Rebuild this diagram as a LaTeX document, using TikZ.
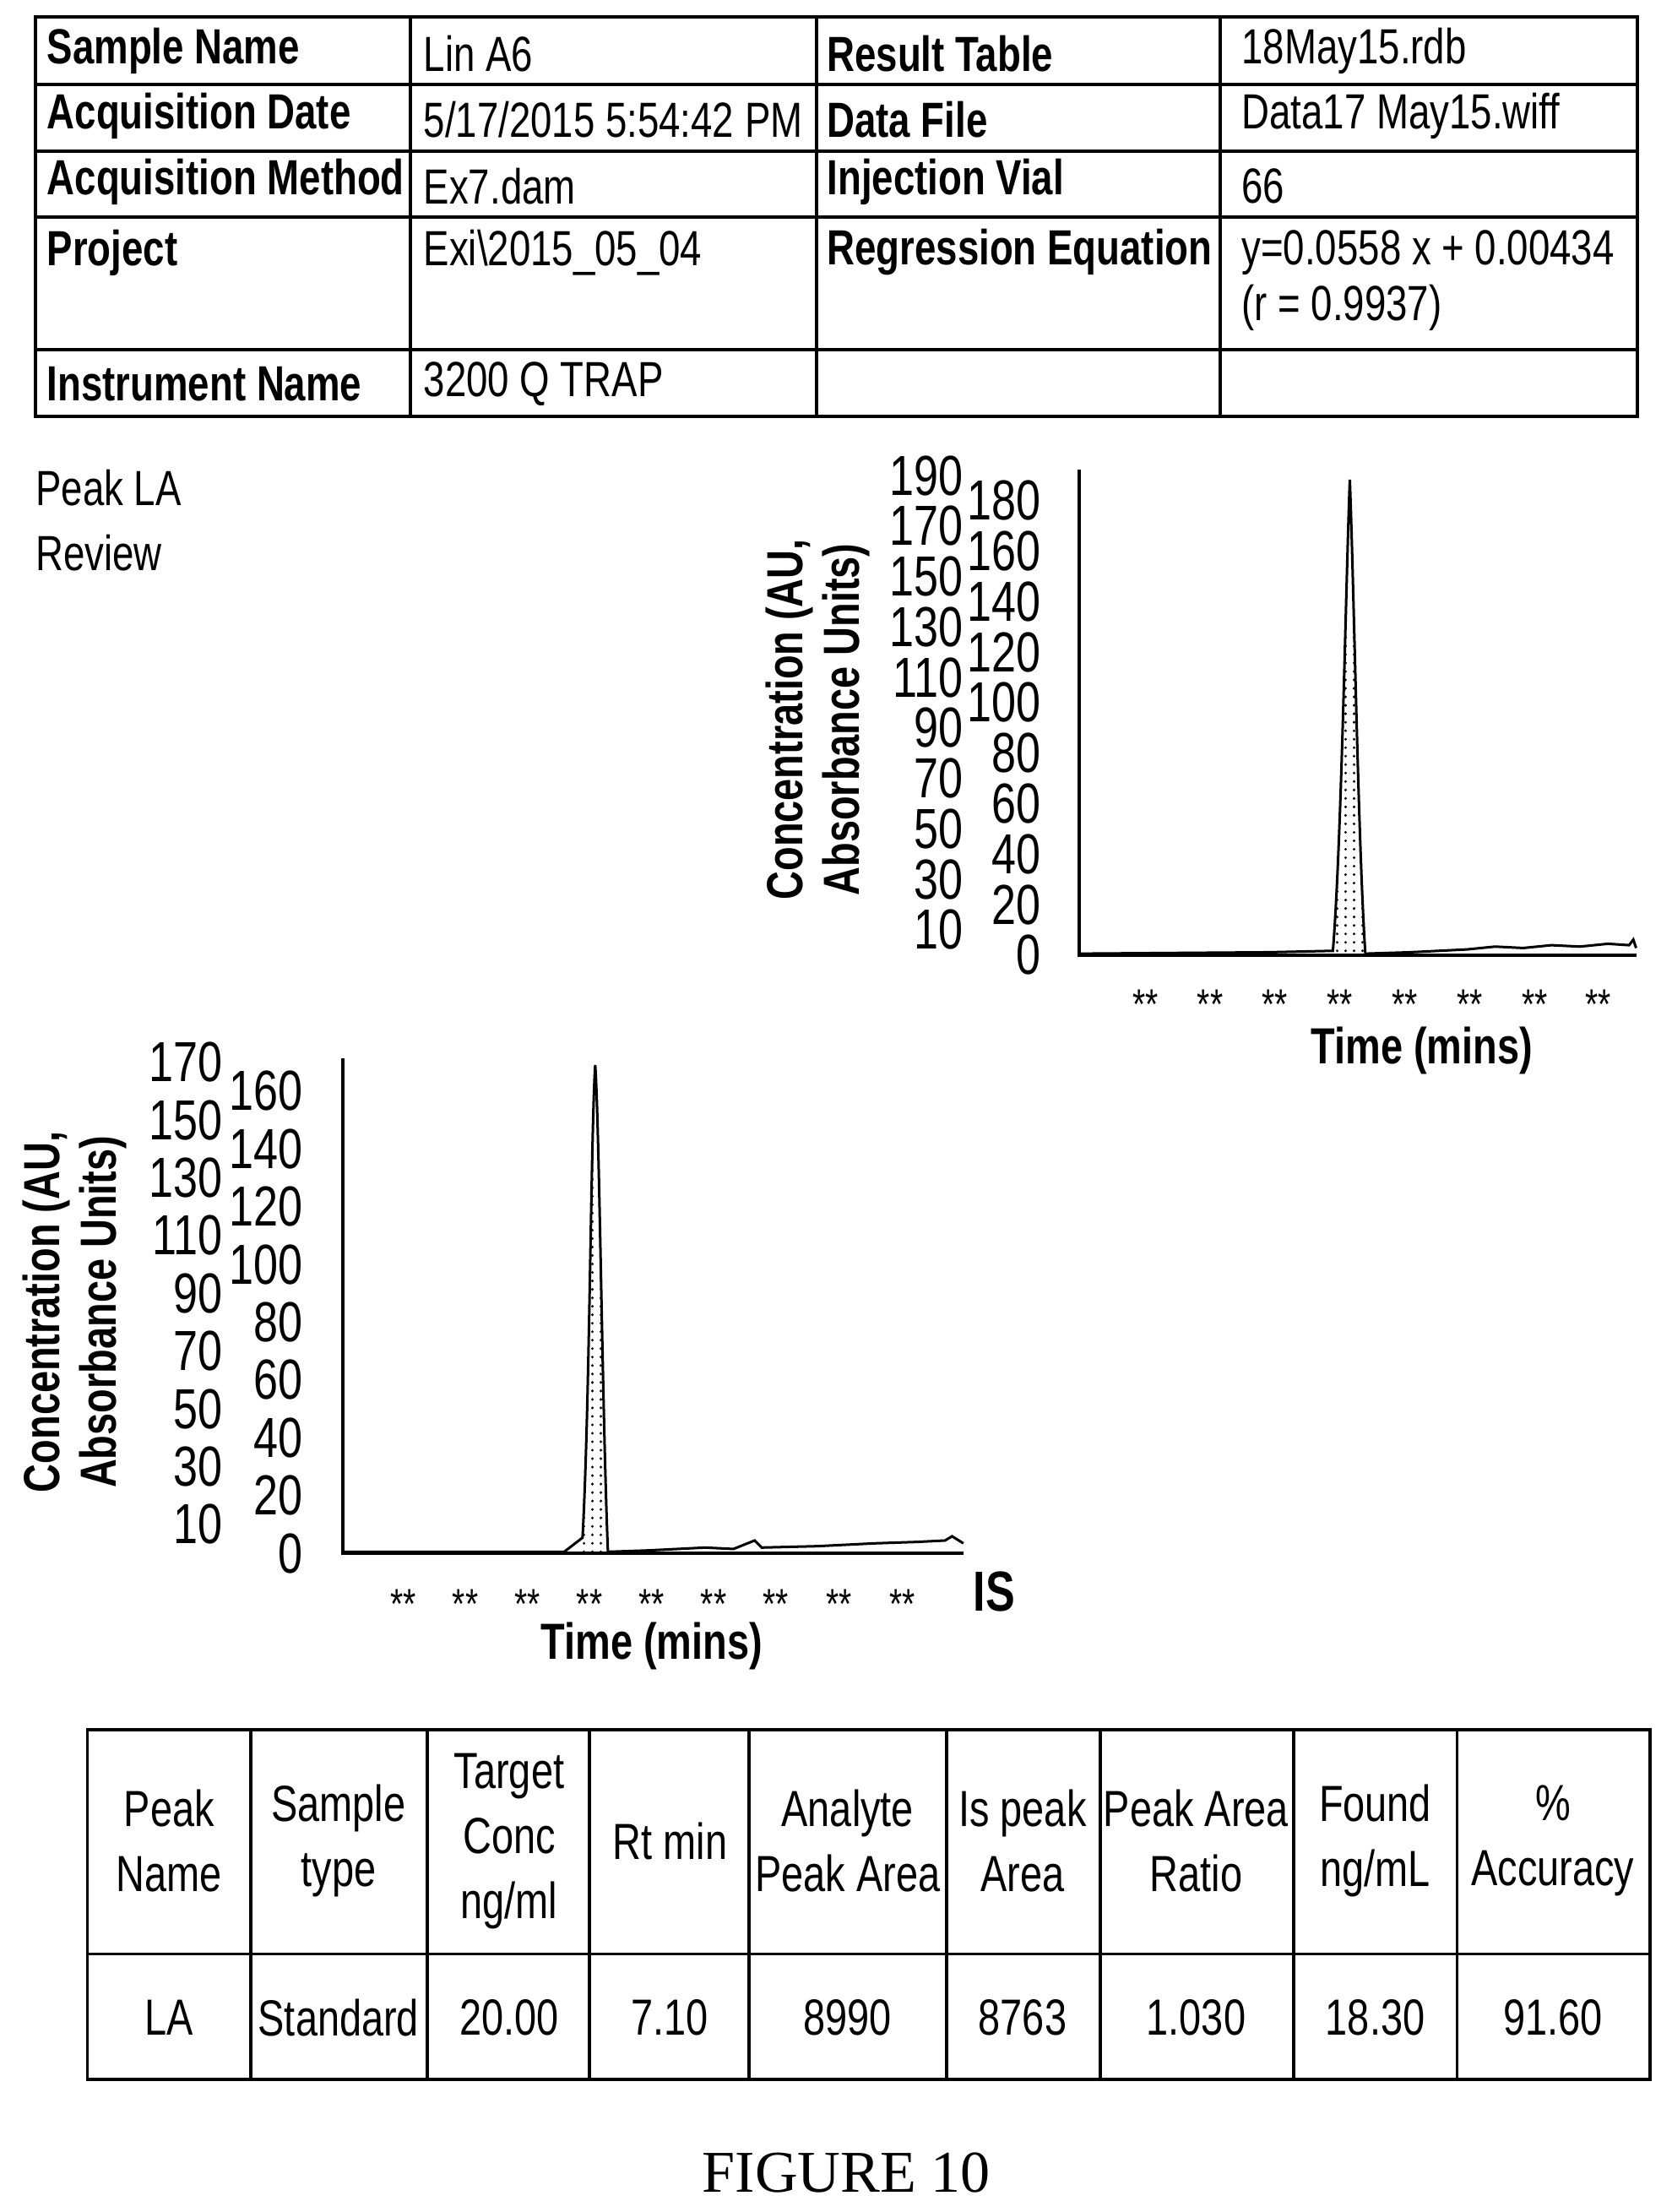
\documentclass[tikz,border=0pt]{standalone}
\usepackage{fontspec}
\setmainfont{Liberation Sans}[FakeStretch=0.78]
\newfontfamily\seriffont{Liberation Serif}
\usetikzlibrary{patterns}
\begin{document}
\begin{tikzpicture}[x=0.5pt,y=-0.5pt,
 tt/.style={anchor=west,font=\fontsize{17.5}{19}\selectfont,inner sep=0},
 tb/.style={tt,font=\fontsize{17.5}{19}\selectfont\bfseries},
 ax/.style={anchor=east,font=\fontsize{20}{21}\selectfont,inner sep=0},
 al/.style={font=\fontsize{18}{20}\selectfont\bfseries,inner sep=0,align=center},
 st/.style={font=\fontsize{15}{15}\selectfont,inner sep=0},
 bt/.style={font=\fontsize{18}{23}\selectfont,inner sep=0,align=center},
 line/.style={line width=1.1pt}]
\useasboundingbox (0,0) rectangle (1185,1568);
% top table
\draw[line] (25,12) rectangle (1161,295);
\foreach \y in {60,107,154,248} \draw[line] (25,\y)--(1161,\y);
\foreach \x in {291,579,865} \draw[line] (\x,12)--(\x,295);
\node[tb] (a1) at (33,36) {Sample Name};
\node[tt] (b1) at (300,38) {Lin A6};
\node[tb] (c1) at (586,38) {Result Table};
\node[tt] (d1) at (880,36) {18May15.rdb};
\node[tb] (a2) at (33,82) {Acquisition Date};
\node[tt] (b2) at (300,85) {5/17/2015 5:54:42 PM};
\node[tb] (c2) at (586,85) {Data File};
\node[tt] (d2) at (880,82) {Data17 May15.wiff};
\node[tb] (a3) at (33,129) {Acquisition Method};
\node[tt] (b3) at (300,132) {Ex7.dam};
\node[tb] (c3) at (586,129) {Injection Vial};
\node[tt] (d3) at (880,132) {66};
\node[tb] (a4) at (33,179) {Project};
\node[tt] (b4) at (300,179) {Exi\textbackslash 2015\_05\_04};
\node[tb] (c4) at (586,179) {Regression Equation};
\node[tt] (d4) at (880,179) {y=0.0558 x + 0.00434};
\node[tt] (d4b) at (880,218) {(r = 0.9937)};
\node[tb] (a5) at (33,272) {Instrument Name};
\node[tt] (b5) at (300,272) {3200 Q TRAP};
\node[tt] (pl) at (25,346) {Peak LA};
\node[tt] (rv) at (25,392) {Review};
% chart 1
\fill[white,pattern=dots] (945,676) .. controls (951,600) and (954,420) .. (957,340) .. controls (960,420) and (963,600) .. (968,676) -- cycle;
\draw[line width=0.9pt] (765,676) -- (900,675) -- (945,674) .. controls (951,600) and (954,420) .. (957,340) .. controls (960,420) and (963,600) .. (968,676) -- (1000,675) -- (1020,674)--(1040,673)--(1060,671)--(1080,672)--(1100,670)--(1120,671)--(1140,669)--(1155,670)--(1158,666)--(1160,672);
\draw[line] (765,333) -- (765,677) -- (1160,677);
\foreach \v in {10,30,...,190} \node[ax] at (683,{677-1.789*\v}) {\v};
\foreach \v in {0,20,...,180} \node[ax] at (738,{677-1.789*\v}) {\v};
\foreach \x in {812,858,904,950,996,1042,1088,1133} \node[st] at (\x,712) {**};
\node[al,rotate=90] (yl1) at (580,510) {Concentration (AU,\\Absorbance Units)};
\node[al] (xl1) at (1008,745) {Time (mins)};
% chart 2
\fill[white,pattern=dots] (413,1100) .. controls (418,1000) and (419,800) .. (422,755) .. controls (425,800) and (427,1000) .. (431,1100) -- cycle;
\draw[line width=0.9pt] (243,1100) -- (400,1100) -- (413,1090) .. controls (418,1000) and (419,800) .. (422,755) .. controls (425,800) and (427,1000) .. (431,1100) -- (460,1099)--(500,1097)--(520,1098)--(535,1092)--(540,1097)--(580,1096)--(620,1094)--(650,1093)--(670,1092)--(675,1089)--(683,1094);
\draw[line] (243,750) -- (243,1101) -- (683,1101);
\foreach \v in {10,30,...,170} \node[ax] at (158,{1101-2.047*\v}) {\v};
\foreach \v in {0,20,...,160} \node[ax] at (215,{1101-2.047*\v}) {\v};
\foreach \x in {286,330,374,418,462,506,550,595,640} \node[st] at (\x,1137) {**};
\node[al,rotate=90] (yl2) at (53,930) {Concentration (AU,\\Absorbance Units)};
\node[al] (xl2) at (462,1167) {Time (mins)};
\node[al,font=\fontsize{20}{20}\selectfont\bfseries] (is) at (705,1128) {IS};
% bottom table
\draw[line] (62,1226) rectangle (1170,1474);
\draw[line] (62,1385)--(1170,1385);
\foreach \x in {178,303,418,531,671,780,917,1033} \draw[line] (\x,1226)--(\x,1474);
\node[bt] at (120,1305) {Peak\\Name};
\node[bt] at (240,1305) {Sample\\type};
\node[bt] at (361,1305) {Target\\Conc\\ng/ml};
\node[bt] at (475,1305) {Rt min};
\node[bt] at (601,1305) {Analyte\\Peak Area};
\node[bt] at (725,1305) {Is peak\\Area};
\node[bt] at (848,1305) {Peak Area\\Ratio};
\node[bt] at (975,1305) {Found\\ng/mL};
\node[bt] at (1101,1305) {\%\\Accuracy};
\foreach \x/\t in {120/LA,240/Standard,361/20.00,475/7.10,601/8990,725/8763,848/1.030,975/18.30,1101/91.60} \node[bt] at (\x,1430) {\t};
\node[font=\seriffont\fontsize{21}{24}\selectfont,inner sep=0] (fig) at (600,1540) {FIGURE 10};
\end{tikzpicture}
\end{document}
